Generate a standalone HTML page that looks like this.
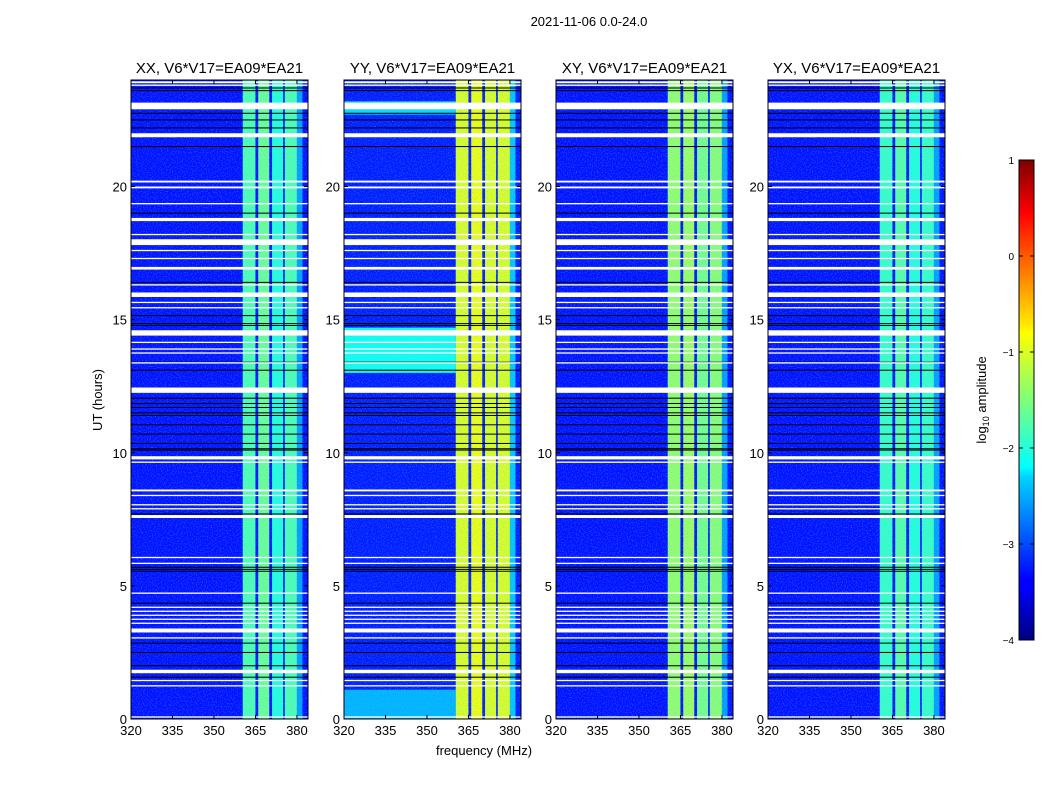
<!DOCTYPE html>
<html><head><meta charset="utf-8">
<style>
body{margin:0;background:#fff;}
svg{display:block;font-family:"Liberation Sans",sans-serif;}
</style></head>
<body>
<svg id="fig" width="1050" height="800" viewBox="0 0 1050 800">
<defs>
<filter id="noise" x="0" y="0" width="100%" height="100%">
<feTurbulence type="fractalNoise" baseFrequency="0.8" numOctaves="2" seed="3"/>
<feColorMatrix type="matrix" values="0 0 0 0 0.1  0 0 0 0 0.55  0 0 0 0 1  0 0 0 1.6 -0.7"/>
</filter>
<linearGradient id="jet" x1="0" y1="1" x2="0" y2="0">
<stop offset="0" stop-color="#00007f"/><stop offset="0.11" stop-color="#0000ff"/>
<stop offset="0.125" stop-color="#0000ff"/><stop offset="0.34" stop-color="#00d4ff"/>
<stop offset="0.36" stop-color="#0ff"/><stop offset="0.5" stop-color="#7dff7a"/>
<stop offset="0.64" stop-color="#ff0"/><stop offset="0.66" stop-color="#ffe600"/>
<stop offset="0.89" stop-color="#ff0000"/><stop offset="1" stop-color="#7f0000"/>
</linearGradient>
</defs>
<text x="589" y="26" font-size="13" text-anchor="middle">2021-11-06 0.0-24.0</text>
<text x="484" y="755" font-size="13" text-anchor="middle">frequency (MHz)</text>
<text transform="translate(102,400) rotate(-90)" font-size="13" text-anchor="middle">UT (hours)</text>
<g id="panels"></g>
<g id="cbar"></g>
</svg>
<script>
const panelTitles = ["XX, V6*V17=EA09*EA21","YY, V6*V17=EA09*EA21","XY, V6*V17=EA09*EA21","YX, V6*V17=EA09*EA21"];
const xTicks = [320,335,350,365,380];
const yTicks = [0,5,10,15,20];
const bgLevel = [-3.3,-3.25,-3.3,-3.3];
const bandSegs = [[360.4,365],[366,370],[371,375],[375.6,380],[380,382]];
const bandLevels = [
 [-1.75,-1.6,-1.95,-1.75,-2.6],
 [-1.05,-0.95,-1.05,-1.05,-2.4],
 [-1.4,-1.35,-1.55,-1.45,-2.6],
 [-1.85,-1.7,-1.95,-1.85,-2.6]];
const whiteStripes = [[23.88,23.95],[23.78,23.83],[22.9,23.15],[21.85,22.0],[20.15,20.22],[19.93,20.0],[19.33,19.38],[18.7,18.82],[18.18,18.22],[17.8,18.02],[17.58,17.62],[17.28,17.32],[16.88,16.98],[16.28,16.33],[15.85,16.02],[15.63,15.67],[15.43,15.47],[14.4,14.6],[14.13,14.17],[13.88,13.92],[13.73,13.77],[13.35,13.4],[12.25,12.45],[9.75,9.87],[9.62,9.67],[8.55,8.62],[8.38,8.42],[8.03,8.07],[7.88,7.92],[7.55,7.66],[6.05,6.09],[5.83,5.87],[4.71,4.75],[4.18,4.22],[4.03,4.07],[3.88,3.92],[3.73,3.77],[3.58,3.62],[3.25,3.4],[3.03,3.07],[1.72,1.85],[1.43,1.47],[1.23,1.27],[0.05,0.1]];
const blackLines = [23.7,23.6,22.75,22.5,22.2,21.5,19.0,18.0,16.4,15.15,14.85,14.78,13.4,13.1,12.05,11.85,11.7,11.5,11.4,11.05,10.7,10.35,10.15,10.1,7.7,5.7,5.62,5.55,4.35,2.85,2.5,2.0,1.57];
const yyLight = [[0,1.1,-2.5],[13.0,14.7,-2.05],[22.7,23.2,-2.3]];

const panelLeft = [131,344,556,768];
const PW = 177, PTOP = 80, PBOT = 719;
const NS = "http://www.w3.org/2000/svg";
function jet(v){const t=Math.max(0,Math.min(1,(v+4)/5));const c=x=>Math.round(255*Math.max(0,Math.min(1,1.5-Math.abs(4*t-x))));return `rgb(${c(3)},${c(2)},${c(1)})`;}
function mk(tag,attrs,parent){const e=document.createElementNS(NS,tag);for(const k in attrs)e.setAttribute(k,attrs[k]);parent.appendChild(e);return e;}
const rootG=document.getElementById('panels');
panelLeft.forEach((L,p)=>{
 const xs=f=>L+(f-320)*PW/64;
 const ys=h=>PBOT-h*(PBOT-PTOP)/24;
 const g=mk('g',{},rootG);
 
 
 const bg=mk('rect',{x:L,y:PTOP,width:PW,height:PBOT-PTOP,fill:jet(bgLevel[p])},g);
 
 
 if(p===1){yyLight.forEach(s=>{const r=mk('rect',{x:L,y:ys(s[1]),width:xs(360.4)-L,height:ys(s[0])-ys(s[1]),fill:jet(s[2])},g);
  
  });}
 bandSegs.forEach((s,i)=>{const r=mk('rect',{x:xs(s[0]),y:PTOP,width:xs(s[1])-xs(s[0]),height:PBOT-PTOP,fill:jet(bandLevels[p][i])},g);
  
  });
 mk('rect',{x:L,y:PTOP,width:PW,height:PBOT-PTOP,filter:'url(#noise)',opacity:0.6},g);
 blackLines.forEach(h=>{const r=mk('rect',{x:L,y:ys(h)-0.5,width:PW,height:1,fill:'#000'},g);
  
  });
 whiteStripes.forEach(s=>{const r=mk('rect',{x:L,y:ys(s[1]),width:PW,height:Math.max(1.3,ys(s[0])-ys(s[1])),fill:'#fff'},g);
  
  });
 mk('rect',{x:L,y:PTOP,width:PW,height:PBOT-PTOP,fill:'none',stroke:'#000','stroke-width':1},g);
 const t=mk('text',{x:L+PW/2,y:73,'font-size':15,'text-anchor':'middle'},g);t.textContent=panelTitles[p];
 
 
 xTicks.forEach(v=>{const x=xs(v);mk('line',{x1:x,x2:x,y1:PBOT,y2:PBOT-4,stroke:'#000'},g);mk('line',{x1:x,x2:x,y1:PTOP,y2:PTOP+4,stroke:'#000'},g);
  const tx=mk('text',{x:x,y:PBOT+16,'font-size':13,'text-anchor':'middle'},g);tx.textContent=v;
  
  });
 yTicks.forEach(v=>{const y=ys(v);mk('line',{x1:L,x2:L+4,y1:y,y2:y,stroke:'#000'},g);mk('line',{x1:L+PW,x2:L+PW-4,y1:y,y2:y,stroke:'#000'},g);
  const ty=mk('text',{x:L-4,y:y+5,'font-size':13,'text-anchor':'end'},g);ty.textContent=v;
  
  });
});
const cbTicks=[-4,-3,-2,-1,0,1];
const cbG=document.getElementById('cbar');
const cy=v=>640-(v+4)*96;
mk('rect',{x:1019,y:160,width:15,height:480,fill:'url(#jet)',stroke:'#000','stroke-width':1},cbG);
cbTicks.forEach(v=>{const y=cy(v);mk('line',{x1:1019,x2:1023,y1:y,y2:y,stroke:'#000'},cbG);mk('line',{x1:1034,x2:1030,y1:y,y2:y,stroke:'#000'},cbG);
 const t=mk('text',{x:1014,y:y+4,'font-size':10,'text-anchor':'end'},cbG);t.textContent=(v<0?'\u2212'+(-v):v);
 
 });
const lab=mk('text',{transform:'translate(986,400) rotate(-90)','font-size':13,'text-anchor':'middle'},cbG);
lab.innerHTML='log<tspan font-size="9" dy="3">10</tspan><tspan dy="-3"> amplitude</tspan>';


</script>
</body></html>
